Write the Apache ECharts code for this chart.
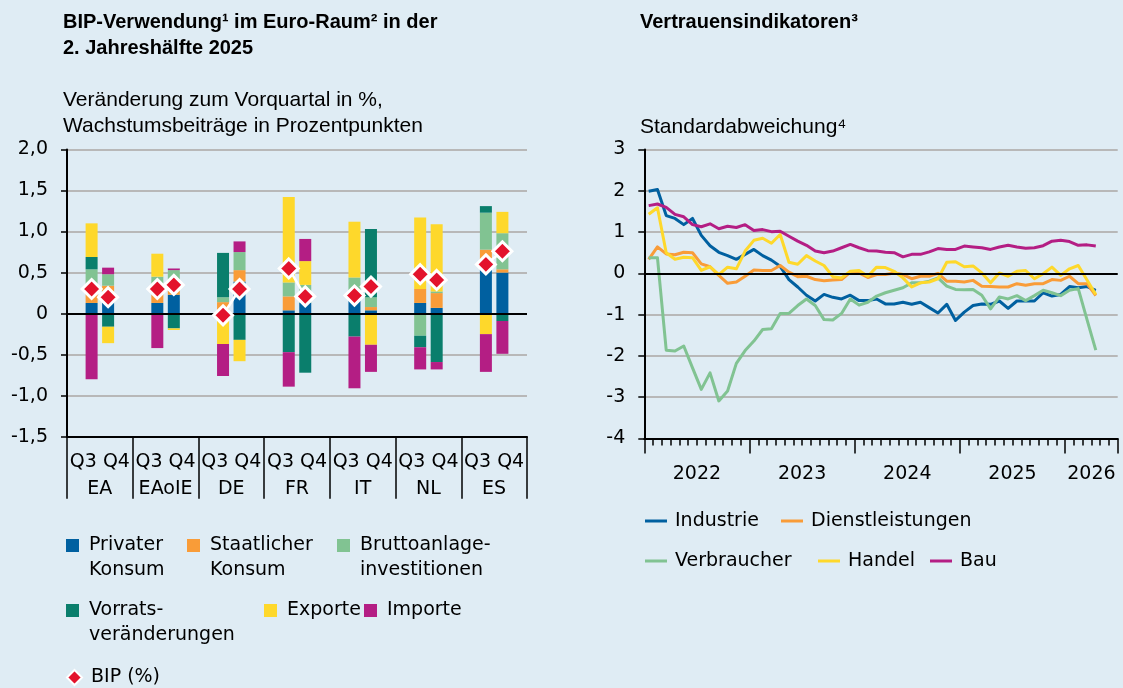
<!DOCTYPE html>
<html>
<head>
<meta charset="utf-8">
<title>BIP-Verwendung und Vertrauensindikatoren</title>
<script src="https://cdn.jsdelivr.net/npm/echarts@6/dist/echarts.min.js"></script>
<style>
  html, body { margin: 0; padding: 0; background: #dfecf4; }
  #chart { width: 1123px; height: 688px; }
</style>
</head>
<body>
<div id="chart"></div>
<script>
// --- linkes Diagramm: Wachstumsbeitraege Q3/Q4 2025 (Prozentpunkte) ---
var countries = ['EA', 'EAoIE', 'DE', 'FR', 'IT', 'NL', 'ES'];
var quarterLabel = 'Q3 Q4';

var privKonsumQ3  = [0.13, 0.13, 0.00, 0.04, 0.17, 0.13, 0.58];
var privKonsumQ4  = [0.23, 0.23, 0.39, 0.13, 0.04, 0.07, 0.50];
var staatKonsumQ3 = [0.13, 0.10, 0.14, 0.17, 0.00, 0.17, 0.20];
var staatKonsumQ4 = [0.11, 0.05, 0.14, 0.00, 0.04, 0.18, 0.04];
var investQ3      = [0.28, 0.22, 0.06, 0.17, 0.27, -0.27, 0.45];
var investQ4      = [0.14, 0.25, 0.22, 0.22, 0.12, 0.02, 0.44];
var vorratQ3      = [0.15, 0.00, 0.54, -0.47, -0.28, -0.14, 0.08];
var vorratQ4      = [-0.16, -0.18, -0.32, -0.72, 0.83, -0.59, -0.09];
var exporteQ3     = [0.41, 0.28, -0.37, 1.04, 0.68, 0.87, -0.25];
var exporteQ4     = [-0.20, -0.02, -0.26, 0.29, -0.38, 0.82, 0.26];
var importeQ3     = [-0.80, -0.42, -0.39, -0.42, -0.63, -0.27, -0.46];
var importeQ4     = [0.08, 0.02, 0.13, 0.27, -0.33, -0.09, -0.40];
var bipQ3         = [0.30, 0.30, -0.02, 0.55, 0.22, 0.48, 0.60];
var bipQ4         = [0.20, 0.35, 0.30, 0.21, 0.33, 0.41, 0.76];

// --- rechtes Diagramm: Vertrauensindikatoren, monatlich ab Jan. 2022 ---
var industrie = [1.99, 2.03, 1.40, 1.33, 1.18, 1.33, 0.92, 0.67, 0.51, 0.43, 0.34, 0.46,
  0.58, 0.43, 0.32, 0.17, -0.15, -0.33, -0.53, -0.67, -0.51, -0.58, -0.62, -0.53,
  -0.66, -0.66, -0.62, -0.74, -0.74, -0.70, -0.75, -0.70, -0.83, -0.96, -0.75, -1.14,
  -0.94, -0.78, -0.74, -0.75, -0.67, -0.85, -0.67, -0.67, -0.67, -0.47, -0.55, -0.51,
  -0.32, -0.35, -0.32, -0.41];
var dienstleistungen = [0.34, 0.64, 0.47, 0.45, 0.51, 0.50, 0.23, 0.16, -0.05, -0.24, -0.21, -0.07,
  0.08, 0.07, 0.07, 0.19, 0.03, -0.08, -0.07, -0.15, -0.18, -0.16, -0.15, 0.03,
  0.01, -0.10, -0.03, -0.03, 0.01, -0.03, -0.13, -0.07, -0.07, 0.00, -0.19, -0.19,
  -0.21, -0.17, -0.31, -0.32, -0.33, -0.33, -0.25, -0.29, -0.25, -0.25, -0.15, -0.17,
  -0.07, -0.25, -0.25, -0.54];
var verbraucher = [0.38, 0.38, -1.86, -1.88, -1.76, -2.29, -2.81, -2.41, -3.09, -2.85, -2.18, -1.87,
  -1.64, -1.36, -1.34, -0.97, -0.97, -0.78, -0.62, -0.78, -1.12, -1.13, -0.97, -0.62,
  -0.77, -0.70, -0.55, -0.47, -0.41, -0.35, -0.23, -0.23, -0.19, -0.11, -0.31, -0.39,
  -0.40, -0.39, -0.53, -0.86, -0.57, -0.62, -0.54, -0.66, -0.54, -0.41, -0.47, -0.54,
  -0.41, -0.37, -1.12, -1.86];
var handel = [1.43, 1.59, 0.50, 0.34, 0.39, 0.38, 0.07, 0.16, -0.03, 0.15, 0.11, 0.54,
  0.80, 0.85, 0.73, 0.94, 0.27, 0.22, 0.43, 0.30, 0.19, -0.08, -0.11, 0.05,
  0.07, -0.07, 0.15, 0.14, 0.05, -0.11, -0.33, -0.23, -0.21, -0.13, 0.27, 0.28,
  0.16, 0.18, 0.01, -0.23, 0.01, -0.07, 0.05, 0.07, -0.13, -0.01, 0.15, -0.05,
  0.11, 0.19, -0.16, -0.51];
var bau = [1.64, 1.68, 1.60, 1.43, 1.37, 1.18, 1.13, 1.20, 1.08, 1.14, 1.11, 1.18,
  1.04, 1.06, 1.01, 1.02, 0.90, 0.78, 0.68, 0.54, 0.50, 0.54, 0.62, 0.70,
  0.62, 0.55, 0.54, 0.51, 0.50, 0.40, 0.46, 0.46, 0.52, 0.60, 0.58, 0.58,
  0.66, 0.64, 0.62, 0.58, 0.64, 0.68, 0.64, 0.61, 0.62, 0.67, 0.78, 0.80,
  0.77, 0.68, 0.69, 0.66];

var yearLabels = ['2022', '2023', '2024', '2025', '2026'];
var yearLabelPos = [6, 18, 30, 42, 51];      // Monate ab Jan. 2022
var yearTickPos = [0, 12, 24, 36, 48, 54];

var FONT = 'DejaVu Sans';
var TFONT = 'Liberation Sans';
var GRID_LINE = '#b8b8b8';

var col = {
  blau: '#0060a0', orange: '#f99c38', hellgruen: '#81c392', petrol: '#0a7e6c',
  gelb: '#fed82b', magenta: '#b41e84', rot: '#e3132c'
};

// Layout
var L_LEFT = 67, L_RIGHT = 596, L_TOP = 149.5, L_BOTTOM = 251.3;
var BAR_W = 12, BAR_GAP = 4.5;
var R_LEFT = 644.3, R_RIGHT = 5.3, R_TOP = 149.5, R_BOTTOM = 249.5;

var chart = echarts.init(document.getElementById('chart'));

function barSeries(name, color, values, stack) {
  return {
    name: name, type: 'bar', stack: stack, xAxisIndex: 0, yAxisIndex: 0,
    data: values, barWidth: BAR_W, barGap: (BAR_GAP / BAR_W * 100) + '%',
    itemStyle: { color: color }, emphasis: { disabled: true }
  };
}

function lineSeries(name, color, values) {
  return {
    name: name, type: 'line', xAxisIndex: 2, yAxisIndex: 2,
    data: values.map(function (v, i) { return [i + 0.5, v]; }),
    symbol: 'none', showSymbol: false,
    lineStyle: { color: color, width: 3, join: 'round' },
    itemStyle: { color: color }, emphasis: { disabled: true }
  };
}

// BIP-Rauten liegen ueber den beiden Stapeln je Land
var groupW = (1123 - L_LEFT - L_RIGHT) / countries.length;
var off = (BAR_W + BAR_GAP) / 2 / groupW;
var bipData = [];
countries.forEach(function (c, k) {
  bipData.push([k + 0.5 - off, bipQ3[k]], [k + 0.5 + off, bipQ4[k]], [k + 1, null]);
});

var series = [
  barSeries('Privater Konsum', col.blau, privKonsumQ3, 'q3'),
  barSeries('Staatlicher Konsum', col.orange, staatKonsumQ3, 'q3'),
  barSeries('Bruttoanlageinvestitionen', col.hellgruen, investQ3, 'q3'),
  barSeries('Vorratsveränderungen', col.petrol, vorratQ3, 'q3'),
  barSeries('Exporte', col.gelb, exporteQ3, 'q3'),
  barSeries('Importe', col.magenta, importeQ3, 'q3'),
  barSeries('Privater Konsum', col.blau, privKonsumQ4, 'q4'),
  barSeries('Staatlicher Konsum', col.orange, staatKonsumQ4, 'q4'),
  barSeries('Bruttoanlageinvestitionen', col.hellgruen, investQ4, 'q4'),
  barSeries('Vorratsveränderungen', col.petrol, vorratQ4, 'q4'),
  barSeries('Exporte', col.gelb, exporteQ4, 'q4'),
  barSeries('Importe', col.magenta, importeQ4, 'q4'),
  {
    name: 'BIP (%)', type: 'line', xAxisIndex: 1, yAxisIndex: 1, data: bipData,
    symbol: 'diamond', symbolSize: 19, showSymbol: true, z: 10,
    lineStyle: { color: '#fff', width: 2.5 },
    itemStyle: { color: col.rot, borderColor: '#fff', borderWidth: 3 },
    emphasis: { disabled: true }
  },
  lineSeries('Industrie', col.blau, industrie),
  lineSeries('Dienstleistungen', col.orange, dienstleistungen),
  lineSeries('Verbraucher', col.hellgruen, verbraucher),
  lineSeries('Handel', col.gelb, handel),
  lineSeries('Bau', col.magenta, bau)
];

var zeroLine = {
  silent: true, symbol: 'none', label: { show: false },
  lineStyle: { color: '#000', width: 2, type: 'solid' },
  data: [{ yAxis: 0 }]
};
series[0].markLine = zeroLine;
series[13].markLine = zeroLine;

// Legenden einzeln platzieren; bei zweizeiligen Texten steht die erste Zeile neben dem Icon
function legendAt(name, text, x, iconTop, icon, w, h, twoLines, pad, itemStyle) {
  var lh = 25;
  var shift = twoLines ? 1.5 * lh - h / 2 : Math.max(0, lh / 2 - h / 2);
  var l = {
    data: [name], left: x, top: iconTop - shift, padding: 0, selectedMode: false,
    icon: icon, itemWidth: w, itemHeight: h,
    formatter: function () { return twoLines ? ' \n' + text : text; },
    textStyle: {
      fontFamily: FONT, fontSize: 19, color: '#000', lineHeight: lh,
      padding: [0, 0, 0, pad]
    }
  };
  if (itemStyle) l.itemStyle = itemStyle;
  return l;
}

var legends = [
  legendAt('Privater Konsum', 'Privater\nKonsum', 66, 539, 'rect', 13, 13, true, 5),
  legendAt('Staatlicher Konsum', 'Staatlicher\nKonsum', 187, 539, 'rect', 13, 13, true, 5),
  legendAt('Bruttoanlageinvestitionen', 'Bruttoanlage-\ninvestitionen', 337, 539, 'rect', 13, 13, true, 5),
  legendAt('Vorratsveränderungen', 'Vorrats-\nveränderungen', 66, 604, 'rect', 13, 13, true, 5),
  legendAt('Exporte', 'Exporte', 264, 604, 'rect', 13, 13, false, 5),
  legendAt('Importe', 'Importe', 364, 604, 'rect', 13, 13, false, 5),
  legendAt('BIP (%)', 'BIP (%)', 66, 670, 'diamond', 15, 15, false, 4,
    { color: col.rot, borderColor: '#fff', borderWidth: 2 }),
  legendAt('Industrie', 'Industrie', 645, 519.5, 'rect', 22, 3, false, 3),
  legendAt('Dienstleistungen', 'Dienstleistungen', 781, 519.5, 'rect', 22, 3, false, 3),
  legendAt('Verbraucher', 'Verbraucher', 645, 559.5, 'rect', 22, 3, false, 3),
  legendAt('Handel', 'Handel', 818, 559.5, 'rect', 22, 3, false, 3),
  legendAt('Bau', 'Bau', 930, 559.5, 'rect', 22, 3, false, 3)
];

var axisText = { fontFamily: FONT, fontSize: 19, color: '#000' };

var option = {
  backgroundColor: '#dfecf4',
  animation: false,
  title: [
    { text: 'BIP-Verwendung¹ im Euro-Raum² in der\n2. Jahreshälfte 2025', left: 63, top: 9, padding: 0,
      textStyle: { fontFamily: TFONT, fontWeight: 'bold', fontSize: 20, lineHeight: 26, color: '#000' } },
    { text: 'Veränderung zum Vorquartal in %,\nWachstumsbeiträge in Prozentpunkten', left: 63, top: 87, padding: 0,
      textStyle: { fontFamily: TFONT, fontWeight: 'normal', fontSize: 21, lineHeight: 26, color: '#000' } },
    { text: 'Vertrauensindikatoren³', left: 640, top: 9, padding: 0,
      textStyle: { fontFamily: TFONT, fontWeight: 'bold', fontSize: 20, lineHeight: 26, color: '#000' } },
    { text: 'Standardabweichung⁴', left: 640, top: 114, padding: 0,
      textStyle: { fontFamily: TFONT, fontWeight: 'normal', fontSize: 21, lineHeight: 26, color: '#000' } }
  ],
  legend: legends,
  grid: [
    { left: L_LEFT, right: L_RIGHT, top: L_TOP, bottom: L_BOTTOM },
    { left: L_LEFT, right: L_RIGHT, top: L_TOP, bottom: L_BOTTOM },
    { left: R_LEFT, right: R_RIGHT, top: R_TOP, bottom: R_BOTTOM },
    { left: R_LEFT, right: R_RIGHT, top: R_TOP, bottom: R_BOTTOM }
  ],
  xAxis: [
    { gridIndex: 0, type: 'category', data: countries, boundaryGap: true,
      axisLine: { onZero: false, lineStyle: { color: '#000', width: 2 } },
      axisTick: { show: true, interval: 0, length: 62, lineStyle: { color: '#000', width: 1.5 } },
      axisLabel: Object.assign({ interval: 0, margin: 12, lineHeight: 27,
        formatter: function (c) { return quarterLabel + '\n' + c; } }, axisText),
      splitLine: { show: false } },
    { gridIndex: 1, type: 'value', min: 0, max: countries.length, show: false },
    { gridIndex: 2, type: 'value', min: 0, max: 54, interval: 1,
      axisLine: { onZero: false, lineStyle: { color: '#000', width: 2 } },
      axisTick: { show: true, length: 7, lineStyle: { color: '#000', width: 1.5 } },
      axisLabel: { show: false }, splitLine: { show: false } },
    { gridIndex: 3, type: 'value', min: 0, max: 54,
      axisLine: { show: false, onZero: false },
      axisTick: { show: true, customValues: yearTickPos, length: 15, lineStyle: { color: '#000', width: 1.5 } },
      axisLabel: Object.assign({ customValues: yearLabelPos, margin: 26,
        formatter: function (v) { return yearLabels[yearLabelPos.indexOf(v)]; } }, axisText),
      splitLine: { show: false } }
  ],
  yAxis: [
    { gridIndex: 0, type: 'value', min: -1.5, max: 2, interval: 0.5,
      axisLine: { show: true, lineStyle: { color: '#000', width: 2 } },
      axisTick: { show: true, length: 6, lineStyle: { color: '#000', width: 1.5 } },
      axisLabel: Object.assign({ margin: 19,
        formatter: function (v) { return v === 0 ? '0' : v.toFixed(1).replace('.', ','); } }, axisText),
      splitLine: { show: true, lineStyle: { color: GRID_LINE, width: 2 } } },
    { gridIndex: 1, type: 'value', min: -1.5, max: 2, show: false },
    { gridIndex: 2, type: 'value', min: -4, max: 3, interval: 1,
      axisLine: { show: true, lineStyle: { color: '#000', width: 2 } },
      axisTick: { show: true, length: 6, lineStyle: { color: '#000', width: 1.5 } },
      axisLabel: Object.assign({ margin: 19 }, axisText),
      splitLine: { show: true, lineStyle: { color: GRID_LINE, width: 2 } } },
    { gridIndex: 3, type: 'value', min: -4, max: 3, show: false }
  ],
  series: series
};

chart.setOption(option);
</script>
</body>
</html>
